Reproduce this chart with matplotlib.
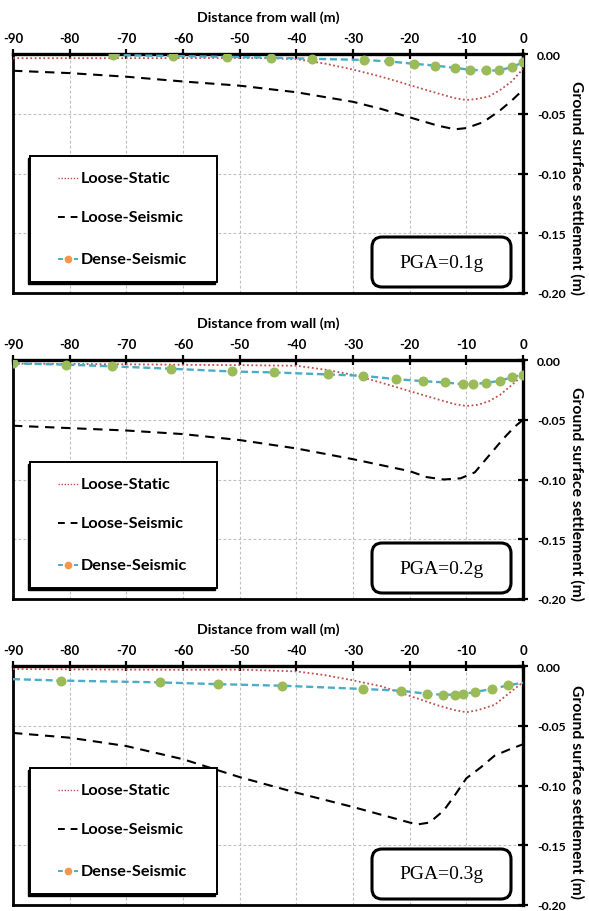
import matplotlib
matplotlib.use('Agg')
import matplotlib.pyplot as plt
from matplotlib.patches import Rectangle, FancyBboxPatch
from matplotlib.lines import Line2D

plt.rcParams['font.family'] = ['Lato', 'DejaVu Sans']

# ---------------- data ----------------
x_ticks = [-90, -80, -70, -60, -50, -40, -30, -20, -10, 0]
x_tick_labels = ['-90', '-80', '-70', '-60', '-50', '-40', '-30', '-20', '-10', '0']
y_ticks = [-0.20, -0.15, -0.10, -0.05, 0.00]
y_tick_labels = ['-0.20', '-0.15', '-0.10', '-0.05', '0.00']
series_names = ['Loose-Static', 'Loose-Seismic', 'Dense-Seismic']
pga_labels = ['PGA=0.1g', 'PGA=0.2g', 'PGA=0.3g']

# PGA = 0.1 g
static1_x = [-90, -80, -70, -60, -50, -45, -40, -35, -30, -25, -20, -15, -12, -10, -8, -6, -4, -2, 0]
static1_y = [-0.0035, -0.0035, -0.0035, -0.0034, -0.0033, -0.0035, -0.0043, -0.0080, -0.0130, -0.0190,
             -0.0260, -0.0330, -0.0370, -0.0385, -0.0375, -0.0355, -0.0300, -0.0230, -0.0125]
seis1_x = [-90, -80, -70, -60, -50, -40, -30, -25, -20, -15, -12, -10, -7, -4, -2, 0]
seis1_y = [-0.014, -0.016, -0.019, -0.023, -0.0265, -0.032, -0.040, -0.046, -0.053, -0.060, -0.063,
           -0.062, -0.057, -0.047, -0.039, -0.030]
dense1_x = [-72.4, -61.8, -52.2, -44.5, -37.3, -28.0, -23.7, -19.2, -15.5, -12.0, -9.4, -6.5, -4.3, -2.0, 0]
dense1_y = [-0.0008, -0.0017, -0.0024, -0.0030, -0.0040, -0.0050, -0.0062, -0.0082, -0.0097, -0.0116,
            -0.0132, -0.0138, -0.0138, -0.0110, -0.0070]
dense1_marked = list(range(0, 15))

# PGA = 0.2 g
static2_x = [-90, -80, -70, -60, -50, -40, -35, -30, -25, -20, -15, -12, -10, -8, -6, -4, -2, 0]
static2_y = [-0.0030, -0.0033, -0.0036, -0.0040, -0.0043, -0.0048, -0.0080, -0.0124, -0.0190, -0.0260,
             -0.0330, -0.0370, -0.0385, -0.0375, -0.0345, -0.0290, -0.0210, -0.0126]
seis2_x = [-90, -80, -70, -60, -50, -40, -30, -20, -17, -14, -11, -8.5, -6, -3.5, -1.5, 0]
seis2_y = [-0.055, -0.057, -0.059, -0.062, -0.067, -0.074, -0.083, -0.093, -0.098, -0.100, -0.099,
           -0.094, -0.080, -0.066, -0.056, -0.050]
dense2_x = [-90, -80.6, -72.5, -62.2, -51.4, -44.0, -34.4, -28.3, -22.5, -17.6, -13.8, -10.6, -8.8, -6.5,
            -4.0, -1.9, 0]
dense2_y = [-0.0028, -0.0039, -0.0053, -0.0073, -0.0096, -0.0104, -0.0121, -0.0132, -0.0160, -0.0177,
            -0.0188, -0.0202, -0.0202, -0.0191, -0.0174, -0.0143, -0.0124]
dense2_marked = list(range(0, 17))

# PGA = 0.3 g
static3_x = [-90, -80, -70, -60, -50, -40, -35, -30, -25, -20, -15, -12, -10, -8, -5, -2, 0]
static3_y = [-0.0025, -0.0028, -0.0030, -0.0032, -0.0030, -0.0045, -0.0076, -0.0120, -0.0170, -0.0250,
             -0.0330, -0.0370, -0.0387, -0.0370, -0.0325, -0.0210, -0.0136]
seis3_x = [-90, -80, -70, -60, -50, -40, -30, -20, -18.5, -16.5, -14, -12, -10, -7.5, -5, -2.5, 0]
seis3_y = [-0.056, -0.060, -0.067, -0.078, -0.093, -0.106, -0.118, -0.131, -0.1325, -0.131, -0.121,
           -0.108, -0.094, -0.085, -0.075, -0.070, -0.0655]
dense3_x = [-90, -81.6, -64.1, -53.9, -42.5, -28.3, -21.5, -16.9, -14.2, -12.0, -10.6, -8.5, -5.5, -2.6, 0]
dense3_y = [-0.0110, -0.0122, -0.0137, -0.0152, -0.0165, -0.0192, -0.0207, -0.0233, -0.0240, -0.0240,
            -0.0235, -0.0218, -0.0192, -0.0162, -0.0140]
dense3_marked = list(range(1, 14))

panels = [
    (static1_x, static1_y, seis1_x, seis1_y, dense1_x, dense1_y, dense1_marked, pga_labels[0]),
    (static2_x, static2_y, seis2_x, seis2_y, dense2_x, dense2_y, dense2_marked, pga_labels[1]),
    (static3_x, static3_y, seis3_x, seis3_y, dense3_x, dense3_y, dense3_marked, pga_labels[2]),
]

# ---------------- styles ----------------
RED = '#C0504D'
BLUE = '#4BACC6'
GREEN = '#9BBB59'
ORANGE = '#F79646'
GRIDC = '#BFBFBF'
red_ls = (0, (1, 1.4))
blk_ls = (0, (4.5, 3.2))
blu_ls = (0, (3, 1.6))

fig = plt.figure(figsize=(5.89, 9.12), dpi=100)

W_PX, H_PX = 510, 239
L = 13 / 589
W = W_PX / 589
H = H_PX / 912
bottoms = [1 - 294 / 912, 1 - 600 / 912, 1 - 906 / 912]
label_y = [0.445, 0.445, 0.475]

for i, (sx, sy, kx, ky, dx, dy, dm, pga) in enumerate(panels):
    ax = fig.add_axes([L, bottoms[i], W, H])
    ax.set_xlim(-90, 0)
    ax.set_ylim(-0.2, 0)
    ax.xaxis.tick_top()
    ax.xaxis.set_label_position('top')
    ax.yaxis.tick_right()
    ax.yaxis.set_label_position('right')
    ax.set_xticks(x_ticks)
    ax.set_xticklabels(x_tick_labels, fontweight='bold')
    ax.set_yticks(y_ticks)
    ax.set_yticklabels(y_tick_labels, fontweight='bold')
    ax.tick_params(axis='both', direction='inout', length=7, width=1.6, colors='black')
    ax.tick_params(axis='x', pad=3.5, labelsize=9.5)
    ax.tick_params(axis='y', pad=6.5, labelsize=8.8)
    ax.grid(True, color=GRIDC, linestyle=(0, (2.5, 2)), linewidth=0.8)
    ax.set_axisbelow(True)
    for sp in ax.spines.values():
        sp.set_linewidth(2.0)
        sp.set_color('black')
    ax.spines['top'].set_linewidth(2.4)
    ax.spines['right'].set_linewidth(2.4)

    ax.set_xlabel('Distance from wall (m)', fontsize=10.3, fontweight='bold', labelpad=8)
    ax.set_ylabel('Ground surface settlement (m)', fontsize=11.3, fontweight='bold',
                  rotation=270, va='bottom', ha='center')
    ax.yaxis.set_label_coords(1.092, label_y[i])

    ax.plot(sx, sy, color=RED, linestyle=red_ls, lw=1.3, zorder=3)
    ax.plot(kx, ky, color='black', linestyle=blk_ls, lw=1.5, zorder=3)
    ax.plot(dx, dy, color=BLUE, linestyle=blu_ls, lw=1.7, zorder=4)
    ax.plot([dx[j] for j in dm], [dy[j] for j in dm], linestyle='none', marker='o',
            ms=6.2, mfc=GREEN, mec=GREEN, zorder=5)

    # legend box (manual)
    lx0, lx1 = 17 / W_PX, 204 / W_PX
    ly0, ly1 = 11 / H_PX, 137 / H_PX
    shadow = Rectangle((lx0 - 0.004, ly0 - 0.010), lx1 - lx0, ly1 - ly0, transform=ax.transAxes,
                       fc='black', ec='black', lw=1.0, zorder=6)
    box = Rectangle((lx0, ly0), lx1 - lx0, ly1 - ly0, transform=ax.transAxes,
                    fc='white', ec='black', lw=1.4, zorder=7)
    ax.add_patch(shadow)
    ax.add_patch(box)
    hx0, hx1 = 45 / W_PX, 65 / W_PX
    tx = 68 / W_PX
    ys = [115 / H_PX, 76 / H_PX, 34 / H_PX]
    ax.add_line(Line2D([hx0, hx1], [ys[0]] * 2, transform=ax.transAxes, color=RED,
                       linestyle=(0, (1, 1.2)), lw=1.0, zorder=8))
    ax.add_line(Line2D([hx0, hx1], [ys[1]] * 2, transform=ax.transAxes, color='black',
                       linestyle=(0, (3.5, 3.0)), lw=1.4, zorder=8))
    ax.add_line(Line2D([hx0, hx1], [ys[2]] * 2, transform=ax.transAxes, color=BLUE,
                       linestyle=(0, (2.5, 1.6)), lw=1.4, zorder=8))
    ax.add_line(Line2D([(hx0 + hx1) / 2], [ys[2]], transform=ax.transAxes, color=ORANGE,
                       marker='o', ms=4.5, linestyle='none', zorder=9))
    for name, yy in zip(series_names, ys):
        ax.text(tx, yy, name, transform=ax.transAxes, fontsize=11.7, fontweight='bold',
                ha='left', va='center', zorder=9)

    # PGA box
    bx0, bx1 = 359 / W_PX, 498 / W_PX
    by0, by1 = 6 / H_PX, 56 / H_PX
    pbox = FancyBboxPatch((bx0, by0), bx1 - bx0, by1 - by0,
                          boxstyle='round,pad=0,rounding_size=0.02',
                          mutation_aspect=W_PX / H_PX, transform=ax.transAxes,
                          fc='white', ec='black', lw=2.2, zorder=7)
    ax.add_patch(pbox)
    ax.text((bx0 + bx1) / 2, (by0 + by1) / 2, pga, transform=ax.transAxes,
            family=['Liberation Serif'], fontsize=14, ha='center', va='center', zorder=8)

fig.savefig('out.png', dpi=100)
